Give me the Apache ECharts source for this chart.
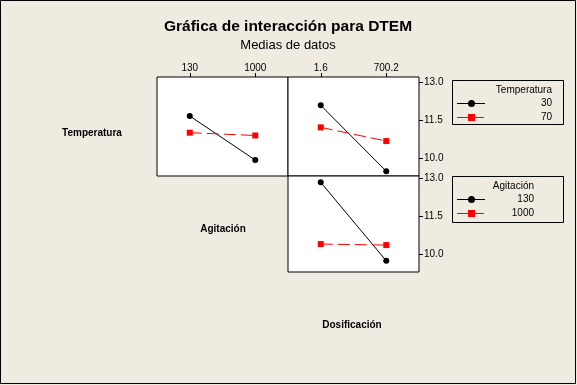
<!DOCTYPE html>
<html>
<head>
<meta charset="utf-8">
<script src="https://cdn.jsdelivr.net/npm/echarts@6/dist/echarts.min.js"></script>
<style>
html,body{margin:0;padding:0;background:#EFEBE1;}
#c{width:577px;height:385px;}
</style>
</head>
<body>
<div id="c"></div>
<script>
const agitacionLevels = ['130', '1000'];
const dosificacionLevels = ['1.6', '700.2'];
const temperaturaLevels = ['30', '70'];
const temp30ByAgitacion = [11.66, 9.92];
const temp70ByAgitacion = [11.00, 10.89];
const temp30ByDosificacion = [12.08, 9.48];
const temp70ByDosificacion = [11.21, 10.67];
const agit130ByDosificacion = [12.84, 9.75];
const agit1000ByDosificacion = [10.41, 10.37];
const yTickValues = [10.0, 11.5, 13.0];

const FONT = 'Liberation Sans';
const RED = '#FF0000';

const chart = echarts.init(document.getElementById('c'), null, {renderer: 'canvas'});

function xAxisTop(gi, data) {
  return {
    gridIndex: gi, type: 'category', data: data, position: 'top', boundaryGap: true,
    axisLine: {show: false},
    axisTick: {show: true, alignWithLabel: true, length: 4, lineStyle: {color: '#000', width: 1}},
    axisLabel: {margin: 4, fontSize: 10, color: '#000', fontFamily: FONT},
    splitLine: {show: false}
  };
}
function xAxisHidden(gi, data) {
  return {gridIndex: gi, type: 'category', data: data, boundaryGap: true, show: false};
}
function yAxisRight(gi, min, max) {
  return {
    gridIndex: gi, type: 'value', position: 'right', min: min, max: max,
    axisLine: {show: false},
    axisTick: {show: true, length: 4, customValues: yTickValues, lineStyle: {color: '#000'}},
    axisLabel: {customValues: yTickValues, margin: 5, fontSize: 10, color: '#000', fontFamily: FONT,
      formatter: v => Number(v).toFixed(1)},
    splitLine: {show: false}
  };
}

function blackSeries(xi, data) {
  return {type: 'line', xAxisIndex: xi, yAxisIndex: xi, data: data, symbol: 'circle', symbolSize: 6,
    itemStyle: {color: '#000'}, lineStyle: {color: '#000', width: 1}, animation: false, silent: true};
}
function redSeries(xi, data) {
  return {type: 'line', xAxisIndex: xi, yAxisIndex: xi, data: data, symbol: 'rect', symbolSize: 6,
    itemStyle: {color: RED}, lineStyle: {color: RED, width: 1, type: [12, 5]}, animation: false, silent: true};
}

function legendBox(top, height, title, titleRight, labels, labelRight) {
  const els = [];
  els.push({type: 'rect', shape: {x: 452.5, y: top + 0.5, width: 111, height: height},
    style: {fill: 'none', stroke: '#000', lineWidth: 1}});
  els.push({type: 'text', x: titleRight, y: top + 10, style: {text: title, align: 'right', verticalAlign: 'middle',
    font: '10px ' + FONT, fill: '#000'}});
  const rows = [top + 23, top + 37];
  els.push({type: 'line', shape: {x1: 457, y1: rows[0] + 0.5, x2: 485, y2: rows[0] + 0.5}, style: {stroke: '#000', lineWidth: 1}});
  els.push({type: 'circle', shape: {cx: 471.5, cy: rows[0] + 0.5, r: 3.5}, style: {fill: '#000'}});
  els.push({type: 'text', x: labelRight, y: rows[0], style: {text: labels[0], align: 'right', verticalAlign: 'middle',
    font: '10px ' + FONT, fill: '#000'}});
  els.push({type: 'line', shape: {x1: 457, y1: rows[1] + 0.5, x2: 484, y2: rows[1] + 0.5}, style: {stroke: RED, lineWidth: 1}});
  els.push({type: 'rect', shape: {x: 468, y: rows[1] - 3, width: 7, height: 7}, style: {fill: RED}});
  els.push({type: 'text', x: labelRight, y: rows[1], style: {text: labels[1], align: 'right', verticalAlign: 'middle',
    font: '10px ' + FONT, fill: '#000'}});
  return els;
}

const option = {
  backgroundColor: '#EFEBE1',
  animation: false,
  grid: [
    {left: 157, top: 77, width: 131, height: 99, show: true, backgroundColor: '#fff', borderColor: '#000', borderWidth: 1},
    {left: 288, top: 77, width: 131, height: 99, show: true, backgroundColor: '#fff', borderColor: '#000', borderWidth: 1},
    {left: 288, top: 176, width: 131, height: 96, show: true, backgroundColor: '#fff', borderColor: '#000', borderWidth: 1}
  ],
  xAxis: [
    xAxisTop(0, agitacionLevels),
    xAxisTop(1, dosificacionLevels),
    xAxisHidden(2, dosificacionLevels)
  ],
  yAxis: [
    {gridIndex: 0, type: 'value', min: 9.29, max: 13.2, show: false},
    yAxisRight(1, 9.29, 13.2),
    yAxisRight(2, 9.31, 13.09)
  ],
  series: [
    blackSeries(0, temp30ByAgitacion),
    redSeries(0, temp70ByAgitacion),
    blackSeries(1, temp30ByDosificacion),
    redSeries(1, temp70ByDosificacion),
    blackSeries(2, agit130ByDosificacion),
    redSeries(2, agit1000ByDosificacion)
  ],
  graphic: [
    {type: 'rect', shape: {x: 0.5, y: 0.5, width: 575, height: 383}, style: {fill: 'none', stroke: '#000', lineWidth: 1}, z: 100},
    {type: 'text', x: 288, y: 27, style: {text: 'Gráfica de interacción para DTEM', align: 'center', verticalAlign: 'middle',
      font: 'bold 15.5px ' + FONT, fill: '#000'}},
    {type: 'text', x: 288, y: 45, style: {text: 'Medias de datos', align: 'center', verticalAlign: 'middle',
      font: '13px ' + FONT, fill: '#000'}},
    {type: 'text', x: 92, y: 133, style: {text: 'Temperatura', align: 'center', verticalAlign: 'middle',
      font: 'bold 10px ' + FONT, fill: '#000'}},
    {type: 'text', x: 223, y: 229, style: {text: 'Agitación', align: 'center', verticalAlign: 'middle',
      font: 'bold 10px ' + FONT, fill: '#000'}},
    {type: 'text', x: 352, y: 325, style: {text: 'Dosificación', align: 'center', verticalAlign: 'middle',
      font: 'bold 10px ' + FONT, fill: '#000'}}
  ].concat(
    legendBox(80, 44, 'Temperatura', 552, temperaturaLevels, 552),
    legendBox(176, 46, 'Agitación', 534, agitacionLevels, 534)
  )
};
chart.setOption(option);
</script>
</body>
</html>
